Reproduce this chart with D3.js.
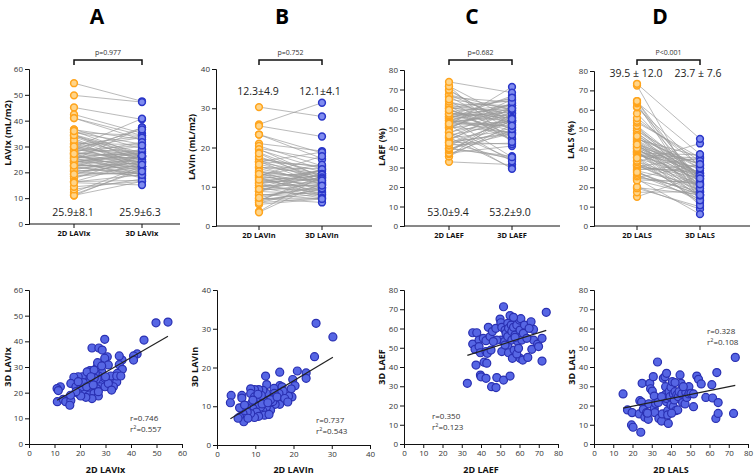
<!DOCTYPE html>
<html><head><meta charset="utf-8">
<script src="https://cdn.jsdelivr.net/npm/d3@7"></script>
<style>body{margin:0;background:#fff}svg{display:block}text{font-family:"Open Sans",sans-serif}</style>
</head><body><svg id="c" width="755" height="476"></svg>
<script>
// ---------------- DATA ----------------
const panelLetters = ["A","B","C","D"];
const categories2D = ["2D LAVIx","2D LAVIn","2D LAEF","2D LALS"];
const categories3D = ["3D LAVIx","3D LAVIn","3D LAEF","3D LALS"];
const yTitlesTop = ["LAVIx (mL/m2)","LAVIn (mL/m2)","LAEF (%)","LALS (%)"];
const yTitlesBottom = ["3D LAVIx","3D LAVIn","3D LAEF","3D LALS"];
const pValues = ["p=0.977","p=0.752","p=0.682","P<0.001"];
const stats2D = ["25.9±8.1","12.3±4.9","53.0±9.4","39.5 ± 12.0"];
const stats3D = ["25.9±6.3","12.1±4.1","53.2±9.0","23.7 ± 7.6"];
const rValues = ["0.746","0.737","0.350","0.328"];
const r2Values = ["0.557","0.543","0.123","0.108"];
const axisMax = [60,40,80,80];

const laviX2D = [54.5,49.8,45.1,42.4,41,41,36.5,35.4,36.6,34.6,34.1,33.7,34.4,33.1,32.1,35.4,29.7,24.7,27.4,28.7,30.7,29.7,31.1,28.5,26.8,26.9,27.3,26,23.9,23.9,22.6,20.9,19.3,17.6,16.4,18.4,20.4,22.4,23.9,25.9,27.8,29.1,27.8,29.8,26.5,24.5,22.8,20.6,19.4,22,23.6,25.5,27.2,24.7,22.3,20.3,18.4,12.3,11,11.5,11.1,13.4,14.4,16.4,16.3,16,22.8,25.5,28.5,25.6,29.8,31.1,32.4,34.4,24.3,21.3,19.3,22.6,25.2,27.2,30,36];
const laviX3D = [47.5,47.2,40.5,35.1,34.3,32.7,32.7,30.9,29.1,27.5,26.2,25,24.2,22.3,26.5,34.3,40.8,37.4,37.4,36.6,34,33.4,30.8,28.2,30.1,31.7,26.5,27.5,28.6,27.3,26.2,26.2,26.2,26,23.6,22.3,22.6,23.6,24.3,24.3,25,23.6,22.3,22.3,21.6,21.7,21.3,21,19.7,19.5,19.1,19.7,18.7,17.7,18.2,18.7,20.4,22.3,21.6,20.8,16.5,17.4,16.5,16.9,19,15.1,28.1,28.8,30.4,25.7,25.6,23.6,21,26.5,26.2,23.9,24.3,22.3,23,20.4,26.2,26.5];

const laviN2D = [25.9,30.3,25.5,23.3,23.3,21,19.8,20.4,19.4,19.6,18.7,16.4,16.4,17,17.3,16.2,16.8,16.4,15.2,14,14.9,15,13.7,12.9,12.7,13,12,10.9,9.8,8.8,8.8,9.8,11.1,12.4,12.9,12,12.4,13.6,11.4,10.3,9,9.4,10.3,10.9,9.8,8.8,7.7,7.9,6.8,7,5.9,6.3,7,8.1,5.5,3.7,3.5,6.5,6.5,5.9,14.6,11.6,10.7,14,15.7,17.7,18.5,11.8,13.3,9.4,7.2];
const laviN3D = [31.4,27.9,22.8,18.6,17.2,19.1,16.9,15.3,14.5,12.4,12.6,18.8,15.3,15,13.9,13.3,11.4,10.5,10.5,9,14.6,13.3,12.4,13.3,17.8,15.6,14.1,14.3,14.3,14.5,13.3,12.4,12,11.6,9.8,8.8,7.7,7.9,9.8,10.3,10.7,9.4,8.5,7.4,7.1,8.1,9.8,8.5,8.1,6.9,7.2,9.4,6,6.9,6.9,12.8,10.9,12.8,12.1,9.6,11.2,12.8,13.1,11.7,12.4,12,11.1,10.6,10.9,11.6,10.3];

const laef2D = [32.9,35.7,37.8,35.7,36.9,37.4,39,39,39.7,39.7,40,41.2,41.6,43,42.6,42.6,43.3,43.8,44.7,45.2,45.5,42.6,45.9,47.7,48.2,47.8,49.9,50.3,51.7,50.8,50.4,50.8,52.2,51.7,52.5,53,53.9,54.3,53.9,53.9,54.3,55.1,55.1,55.7,56,56,56.3,56.9,57.2,57.7,58.6,59.1,60,60.7,60.3,60.3,61.2,61.7,62,62.6,64.3,66,66.4,67.3,67.3,69.4,69.9,71.7,71.7,73.9,58.6,56.9,48.2,46.4,57.7,59.5,52.5,63.8,65];
const laef3D = [31.5,57.8,57.8,51.9,49.2,41,54,50.6,47.4,35.8,34.9,54.9,42.5,42,53.7,48,47.1,60.6,55.8,48.8,29.8,34.1,58.4,60.1,34.5,29.3,64.9,63,71.3,60.6,54,48,53.2,33.2,59.2,57.5,62.7,60.1,55.8,50.9,47.4,66.7,35.3,61.8,58.4,54,44.5,60.6,48.8,56.6,61.8,53.2,64.4,65.1,59.2,44.5,54,43.6,57.5,61.8,45,63.5,49.2,59.5,54,51.9,50.6,54.9,43.1,68.4,46.8,65.8,54,53.2,55.4,49.7,51.4,54.9,60.1];

const lals2D = [15.1,17.4,19.8,19.5,20.3,24.3,23.8,24.7,25,23.5,25.6,26.4,27.3,28.2,28.5,29,29.4,30.3,30.8,31.3,31.3,31.6,32,33.4,33,33.7,35.1,35.5,36,36.9,36.9,37.2,37.7,37.7,37.7,38.3,38.3,38.6,39,39.5,40,40,40.7,41.2,41.2,41.7,42.1,42.4,43,43.5,43.8,44.2,44.7,45.2,45.6,46,47.3,47.7,48.2,49.3,49.3,50.4,51.7,51.7,53.4,54.3,55.7,58.1,61.2,61.6,63.3,63.8,64.5,64.5,72.5,73.4,35.1,40.3,46.4,42.1,27.8];
const lals3D = [26,17.7,16.3,9.9,8.7,6.1,22.5,21.8,31.5,15.6,18,13.9,16.3,12.8,20.9,31.5,28.7,27.5,35,24.9,18.5,16.3,21.1,21.6,42.6,13.3,11.9,15.6,34.1,35,25.5,29.8,22,23.7,36.7,17.3,15.1,10.7,27.2,24.6,20.3,29.5,32.4,26,19.4,22.9,27.2,17.3,25.5,17.7,24.6,27.2,35.9,31.5,26,21.5,20.8,26.8,24.2,29.8,26,26.3,19.4,26,35.3,33.6,31.2,24.2,30.8,23.9,13.3,37.1,21.5,15.9,15.9,45,24.6,16,29.8,31.9,16];

const series2D = [laviX2D, laviN2D, laef2D, lals2D];
const series3D = [laviX3D, laviN3D, laef3D, lals3D];

// ---------------- LAYOUT ----------------
const topLayout = [
  {ax:29,  y0:224, y1:69, xEnd:180, c2:74,  c3:142, title:97,  ytx:9,   yty:133, statY:212},
  {ax:216, y0:226, y1:69, xEnd:372, c2:259, c3:322, title:282, ytx:193, yty:147, statY:91},
  {ax:404, y0:226, y1:70, xEnd:560, c2:449, c3:512, title:472, ytx:383, yty:147, statY:212},
  {ax:594, y0:226, y1:71, xEnd:750, c2:637, c3:700, title:660, ytx:572, yty:140, statY:73}
];
const botLayout = [
  {ox:29,  oy:444, xEnd:182, yEnd:290, ytx:9,   rx:130, ry:418},
  {ox:217, oy:445, xEnd:370, yEnd:290, ytx:196, rx:316, ry:420},
  {ox:404, oy:444, xEnd:558, yEnd:290, ytx:383, rx:432, ry:416},
  {ox:594, oy:444, xEnd:748, yEnd:290, ytx:573, rx:707, ry:331}
];

const svg = d3.select("#c");
const ORANGE = "#ffa41c", ORANGE_F = "#ffd58a";
const BLUE = "#2a36c8", BLUE_F = "#7f8cf0";

function styleAxis(g){
  g.selectAll("path,line").attr("stroke","#111").attr("stroke-width",1);
  g.selectAll("text").attr("font-size",8).attr("fill","#333");
}

for (let i=0;i<4;i++){
  const L = topLayout[i];
  const d2 = series2D[i], d3v = series3D[i];
  const y = d3.scaleLinear().domain([0,axisMax[i]]).range([L.y0,L.y1]);
  const x = d3.scaleOrdinal().domain([categories2D[i],categories3D[i]]).range([L.c2,L.c3]);
  const g = svg.append("g");

  // title letter
  g.append("text").attr("x",L.title).attr("y",24).attr("text-anchor","middle")
    .attr("font-size",21).attr("font-weight","bold").attr("fill","#000").text(panelLetters[i]);

  // y axis
  const ya = g.append("g").attr("transform",`translate(${L.ax},0)`)
    .call(d3.axisLeft(y).ticks(axisMax[i]/10).tickSize(4).tickPadding(2));
  styleAxis(ya);
  // x axis baseline
  g.append("line").attr("x1",L.ax).attr("x2",L.xEnd).attr("y1",y(0)).attr("y2",y(0))
    .attr("stroke","#111").attr("stroke-width",1);
  [categories2D[i],categories3D[i]].forEach(c=>{
    g.append("line").attr("x1",x(c)).attr("x2",x(c)).attr("y1",y(0)).attr("y2",y(0)+4).attr("stroke","#111");
    g.append("text").attr("x",x(c)).attr("y",y(0)+12).attr("text-anchor","middle")
      .attr("font-size",7.5).attr("font-weight","bold").attr("fill","#111").text(c);
  });
  // y title
  g.append("text").attr("transform",`translate(${L.ytx},${L.yty}) rotate(-90)`)
    .attr("text-anchor","middle").attr("dominant-baseline","middle")
    .attr("font-size",9).attr("font-weight","bold").attr("fill","#111").text(yTitlesTop[i]);

  // bracket
  const bx1 = x(categories2D[i]), bx2 = x(categories3D[i]);
  g.append("path").attr("d",`M${bx1},65V60H${bx2}V65`).attr("fill","none").attr("stroke","#111").attr("stroke-width",1.5);
  g.append("text").attr("x",(bx1+bx2)/2).attr("y",55).attr("text-anchor","middle")
    .attr("font-size",7).attr("fill","#333").text(pValues[i]);

  // paired lines
  g.append("g").selectAll("line").data(d2).join("line")
    .attr("x1",bx1).attr("x2",bx2)
    .attr("y1",d=>y(d)).attr("y2",(d,k)=>y(d3v[k]))
    .attr("stroke","#9a9a9a").attr("stroke-width",0.8).attr("opacity",0.85);
  // points
  g.append("g").selectAll("circle").data(d2).join("circle")
    .attr("cx",bx1).attr("cy",d=>y(d)).attr("r",3.4)
    .attr("fill",ORANGE_F).attr("stroke",ORANGE).attr("stroke-width",1.5);
  g.append("g").selectAll("circle").data(d3v).join("circle")
    .attr("cx",bx2).attr("cy",d=>y(d)).attr("r",3.4)
    .attr("fill",BLUE_F).attr("stroke",BLUE).attr("stroke-width",1.5);

  // stats
  [[stats2D[i],bx1-1],[stats3D[i],bx2-2]].forEach(([t,xx])=>{
    g.append("text").attr("x",xx).attr("y",L.statY+4).attr("text-anchor","middle")
      .attr("font-size",10.5).attr("fill","#222").text(t);
  });

  // ------ bottom scatter ------
  const B = botLayout[i];
  const sx = d3.scaleLinear().domain([0,axisMax[i]]).range([B.ox,B.xEnd]);
  const sy = d3.scaleLinear().domain([0,axisMax[i]]).range([B.oy,B.yEnd]);
  const gb = svg.append("g");
  const xa = gb.append("g").attr("transform",`translate(0,${B.oy})`)
    .call(d3.axisBottom(sx).ticks(axisMax[i]/10).tickSize(4).tickPadding(2));
  styleAxis(xa);
  const ya2 = gb.append("g").attr("transform",`translate(${B.ox},0)`)
    .call(d3.axisLeft(sy).ticks(axisMax[i]/10).tickSize(4).tickPadding(2));
  styleAxis(ya2);
  gb.append("text").attr("x",(B.ox+B.xEnd)/2).attr("y",473).attr("text-anchor","middle")
    .attr("font-size",9).attr("font-weight","bold").attr("fill","#111").text(categories2D[i]);
  gb.append("text").attr("transform",`translate(${B.ytx},367) rotate(-90)`)
    .attr("text-anchor","middle").attr("dominant-baseline","middle")
    .attr("font-size",9).attr("font-weight","bold").attr("fill","#111").text(yTitlesBottom[i]);

  // regression
  const mx = d3.mean(d2), my = d3.mean(d3v);
  let sxy=0, sxx=0;
  d2.forEach((v,k)=>{ sxy += (v-mx)*(d3v[k]-my); sxx += (v-mx)*(v-mx); });
  const slope = sxy/sxx, icpt = my - slope*mx;
  const [xmin,xmax] = d3.extent(d2);
  gb.selectAll("circle").data(d2).join("circle")
    .attr("cx",d=>sx(d)).attr("cy",(d,k)=>sy(d3v[k])).attr("r",4)
    .attr("fill","#5666e4").attr("stroke","#2a30b2").attr("stroke-width",1.2);
  gb.append("line").attr("x1",sx(xmin)).attr("x2",sx(xmax))
    .attr("y1",sy(icpt+slope*xmin)).attr("y2",sy(icpt+slope*xmax))
    .attr("stroke","#222").attr("stroke-width",1.2);

  gb.append("text").attr("x",B.rx).attr("y",B.ry+3).attr("font-size",8).attr("fill","#333").text("r="+rValues[i]);
  const t2 = gb.append("text").attr("x",B.rx).attr("y",B.ry+14).attr("font-size",8).attr("fill","#333");
  t2.append("tspan").text("r");
  t2.append("tspan").attr("font-size",5.5).attr("dy",-3).text("2");
  t2.append("tspan").attr("dy",3).text("="+r2Values[i]);
}
</script></body></html>
